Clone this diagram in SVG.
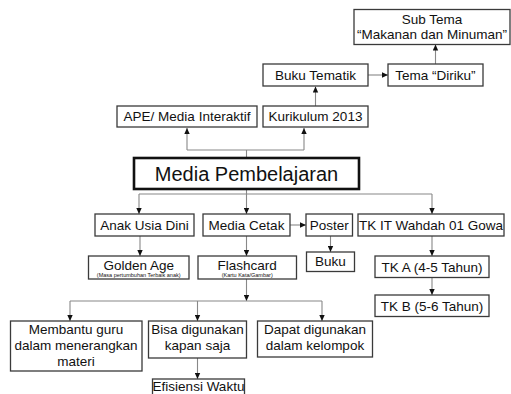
<svg xmlns="http://www.w3.org/2000/svg" width="511" height="394" viewBox="0 0 511 394">
<style>
.box{fill:#fff;stroke:#3a3a3a;stroke-width:1.3}
.main{fill:#fff;stroke:#111;stroke-width:2.6}
.t{font-family:"Liberation Sans",Arial,sans-serif;font-size:13.5px;fill:#111;text-anchor:middle}
.big{font-size:20px}
.s{font-size:5.5px}
.c{fill:none;stroke:#888;stroke-width:1.1}
</style>
<defs>
<marker id="a" viewBox="0 0 6 6" refX="6" refY="3" markerWidth="6" markerHeight="6" markerUnits="userSpaceOnUse" orient="auto">
<path d="M0,0.3 L6,3 L0,5.7 z" fill="#111"/>
</marker>
</defs>
<rect width="511" height="394" fill="#fff"/>
<g id="connectors">
<path class="c" d="M246.5,158 V150 M187,150 H304"/>
<path class="c" d="M187,150 V128" marker-end="url(#a)"/>
<path class="c" d="M304,150 V128" marker-end="url(#a)"/>
<path class="c" d="M315.5,106 V86.5" marker-end="url(#a)"/>
<path class="c" d="M368,75 H388" marker-end="url(#a)"/>
<path class="c" d="M435.5,64 V44.5" marker-end="url(#a)"/>
<path class="c" d="M246.5,190 V194 M139,194 H432"/>
<path class="c" d="M139,194 V214" marker-end="url(#a)"/>
<path class="c" d="M246.5,194 V214" marker-end="url(#a)"/>
<path class="c" d="M432,194 V214" marker-end="url(#a)"/>
<path class="c" d="M290,225 H306" marker-end="url(#a)"/>
<path class="c" d="M140,236 V256" marker-end="url(#a)"/>
<path class="c" d="M246.5,236 V256" marker-end="url(#a)"/>
<path class="c" d="M330.5,236 V252" marker-end="url(#a)"/>
<path class="c" d="M432,236 V256" marker-end="url(#a)"/>
<path class="c" d="M432,277 V295" marker-end="url(#a)"/>
<path class="c" d="M246.5,279 V301" marker-end="url(#a)"/>
<path class="c" d="M70,301 H322"/>
<path class="c" d="M70,301 V321" marker-end="url(#a)"/>
<path class="c" d="M197.5,301 V321" marker-end="url(#a)"/>
<path class="c" d="M322,301 V321" marker-end="url(#a)"/>
<path class="c" d="M197.5,358 V379" marker-end="url(#a)"/>
</g>
<g id="subtema"><rect class="box" x="354" y="9.5" width="156" height="35"/><text class="t" x="432" y="24">Sub Tema</text><text class="t" x="432" y="39">“Makanan dan Minuman”</text></g>
<g id="tema"><rect class="box" x="388" y="64" width="95" height="22"/><text class="t" x="435.5" y="80">Tema “Diriku”</text></g>
<g id="bukutematik"><rect class="box" x="263" y="64" width="105" height="22"/><text class="t" x="315.5" y="80">Buku Tematik</text></g>
<g id="kurikulum"><rect class="box" x="263" y="106" width="105" height="21"/><text class="t" x="315.5" y="121">Kurikulum 2013</text></g>
<g id="ape"><rect class="box" x="117" y="106" width="140" height="21"/><text class="t" x="187" y="121">APE/ Media Interaktif</text></g>
<g id="media"><rect class="main" x="134" y="158" width="225" height="31"/><text class="t big" x="246.5" y="181">Media Pembelajaran</text></g>
<g id="anak"><rect class="box" x="95" y="214" width="99" height="22"/><text class="t" x="144.5" y="230">Anak Usia Dini</text></g>
<g id="cetak"><rect class="box" x="203" y="214" width="87" height="22"/><text class="t" x="246.5" y="230">Media Cetak</text></g>
<g id="poster"><rect class="box" x="306" y="214" width="46.5" height="22"/><text class="t" x="329.3" y="230">Poster</text></g>
<g id="tkit"><rect class="box" x="358" y="214" width="146" height="22"/><text class="t" x="431" y="230">TK IT Wahdah 01 Gowa</text></g>
<g id="golden"><rect class="box" x="88.5" y="256" width="100.5" height="23"/><text class="t" x="138.7" y="269.5">Golden Age</text><text class="t s" x="138.7" y="276.5">(Masa pertumbuhan Terbaik anak)</text></g>
<g id="flashcard"><rect class="box" x="198" y="256" width="98.5" height="23"/><text class="t" x="247.2" y="269.5">Flashcard</text><text class="t s" x="247.2" y="276.5">(Kartu Kata/Gambar)</text></g>
<g id="buku"><rect class="box" x="306.5" y="252" width="48" height="19.5"/><text class="t" x="330.5" y="266">Buku</text></g>
<g id="tka"><rect class="box" x="375" y="256" width="114" height="21.5"/><text class="t" x="432" y="272">TK A (4-5 Tahun)</text></g>
<g id="tkb"><rect class="box" x="375" y="295" width="114" height="21.5"/><text class="t" x="432" y="311">TK B (5-6 Tahun)</text></g>
<g id="membantu"><rect class="box" x="10.5" y="321" width="131.5" height="50"/><text class="t" x="76" y="334">Membantu guru</text><text class="t" x="76" y="350">dalam menerangkan</text><text class="t" x="76" y="366">materi</text></g>
<g id="bisa"><rect class="box" x="148.5" y="321" width="98" height="37"/><text class="t" x="197.5" y="334">Bisa digunakan</text><text class="t" x="197.5" y="350">kapan saja</text></g>
<g id="dapat"><rect class="box" x="257.5" y="321" width="115" height="36"/><text class="t" x="315" y="334">Dapat digunakan</text><text class="t" x="315" y="350">dalam kelompok</text></g>
<g id="efisiensi"><rect class="box" x="152.5" y="379" width="92" height="20"/><text class="t" x="198.5" y="391">Efisiensi Waktu</text></g>
</svg>
